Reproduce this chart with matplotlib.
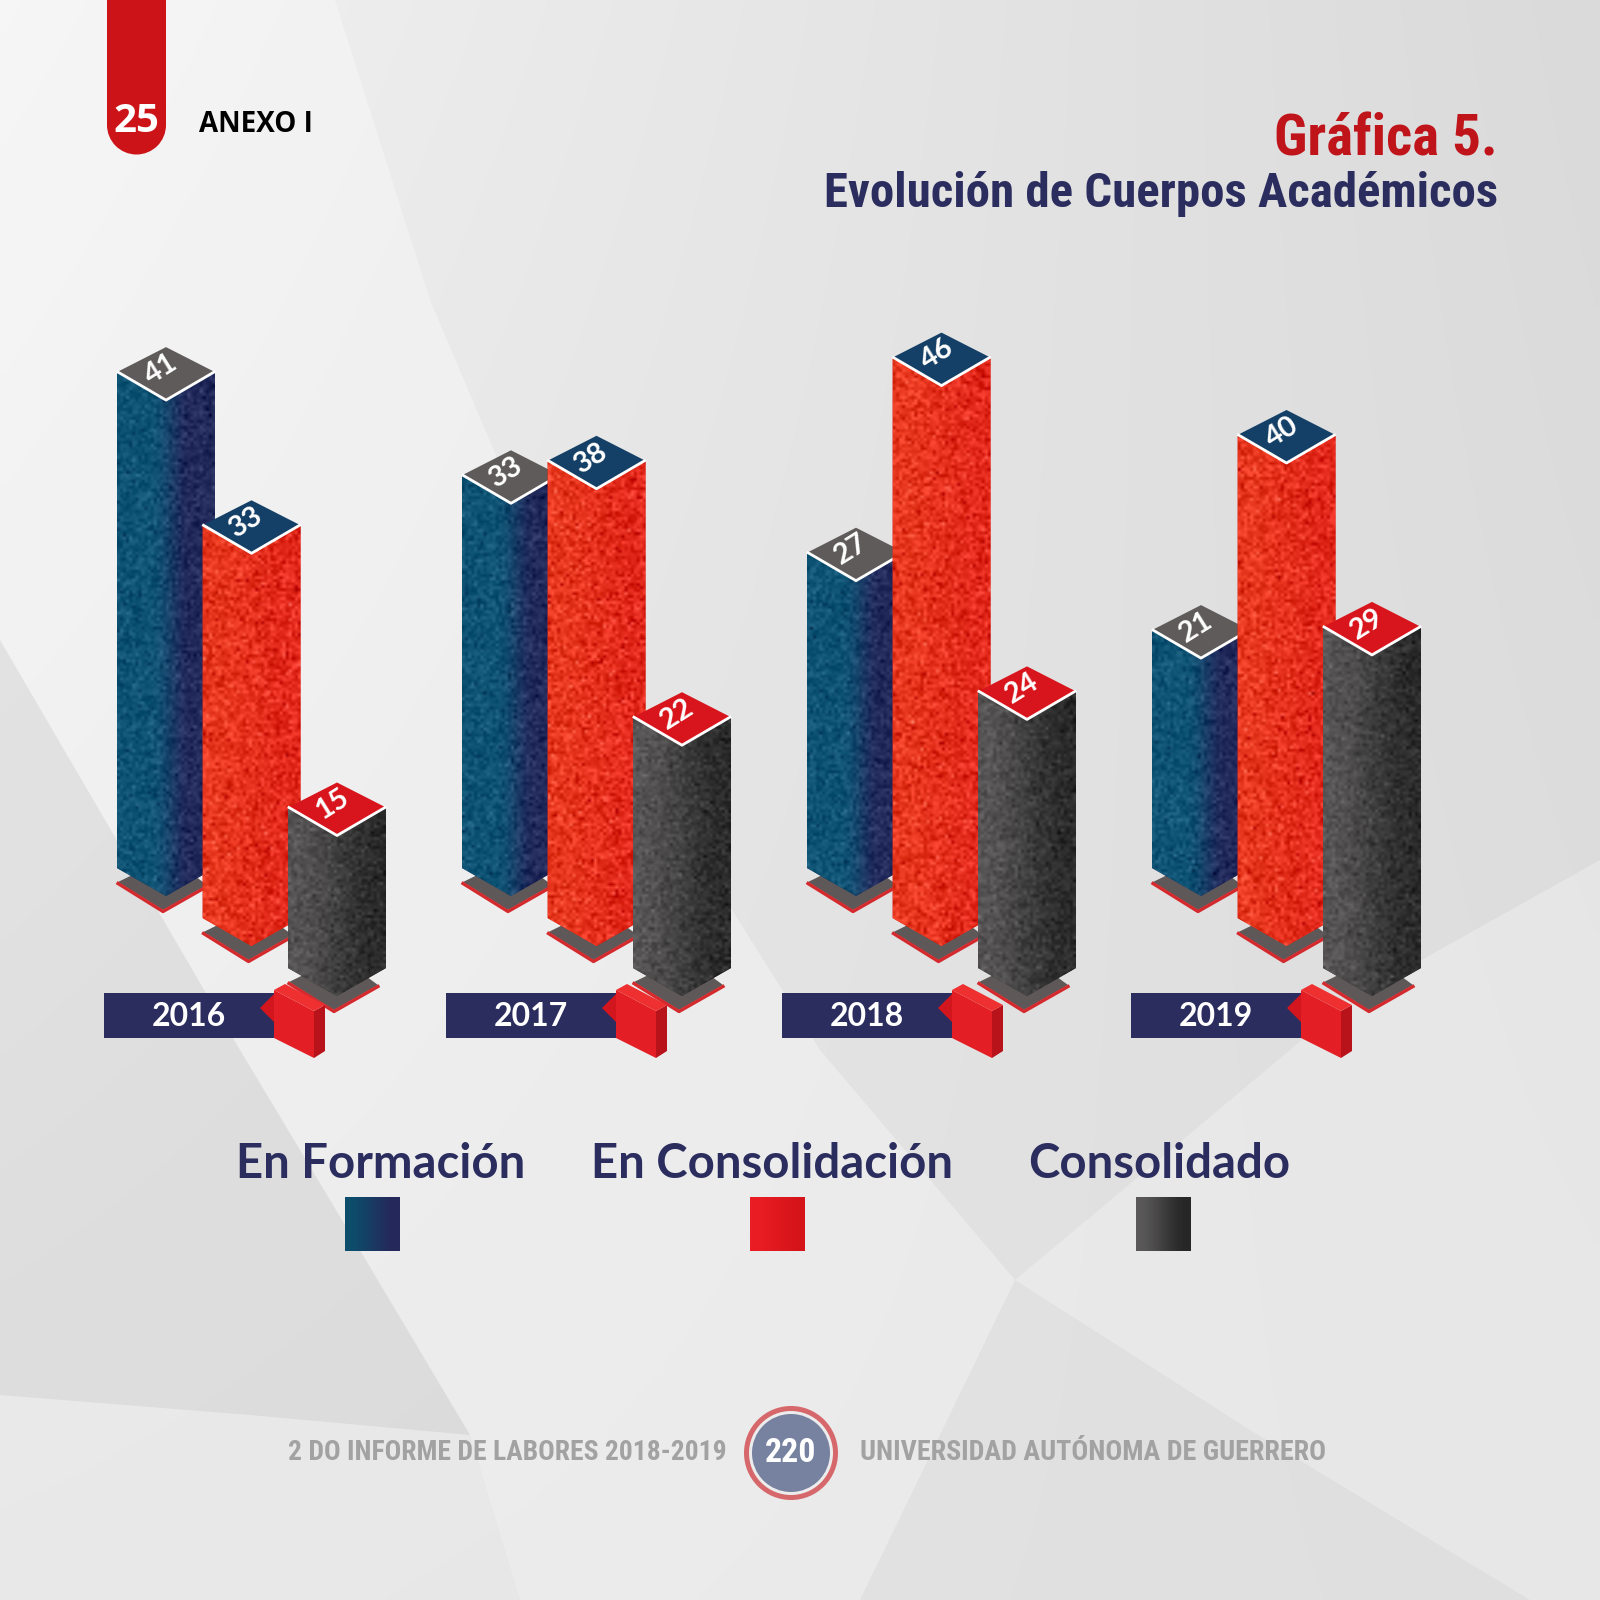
import numpy as np
import matplotlib
matplotlib.use("Agg")
import matplotlib.pyplot as plt
from matplotlib.patches import Polygon, Rectangle, Circle
from matplotlib.lines import Line2D
from matplotlib import font_manager
from matplotlib.colors import to_rgb

# ---- data -------------------------------------------------------------
YEARS = ["2016", "2017", "2018", "2019"]
SERIES = ["En Formación", "En Consolidación", "Consolidado"]
EN_FORMACION = [41, 33, 27, 21]
EN_CONSOLIDACION = [33, 38, 46, 40]
CONSOLIDADO = [15, 22, 24, 29]

TITLE = "Gráfica 5."
SUBTITLE = "Evolución de Cuerpos Académicos"
FOOT_LEFT = "2 DO INFORME DE LABORES 2018-2019"
FOOT_RIGHT = "UNIVERSIDAD AUTÓNOMA DE GUERRERO"
PAGE = "220"
CHAPTER = "25"
SECTION = "ANEXO I"

# ---- style ------------------------------------------------------------
NAVY = "#2b2d5e"
RED = "#cc1317"
# body gradient (left, right), top colour per series
BODY = [("#0f5374", "#222a5c"), ("#e8381f", "#e2281b"), ("#575555", "#2a2a2a")]
TOPS = ["#5f5b5b", "#143f66", "#d8151c"]

installed = {f.name for f in font_manager.fontManager.ttflist}
NARROW = "Liberation Sans"
narrow_found = False
for cand in ["Liberation Sans Narrow", "Roboto Condensed", "Open Sans Condensed", "Arial Narrow"]:
    if cand in installed:
        NARROW, narrow_found = cand, True
        break
LATO = "Lato" if "Lato" in installed else "DejaVu Sans"
OPEN = "Open Sans" if "Open Sans" in installed else "DejaVu Sans"
# a normal-width face has to be set smaller to keep the line lengths
NS = 1.0 if narrow_found else 0.84

PX = 12.9          # pixels per unit
ZERO = 901         # pixel row of value 0 for the back bar
BAR_W = 98
STEP_X = 85.5      # shift of each bar inside a group
STEP_Y = 50        # drop of each bar inside a group (px)
GROUP_X0 = 117
GROUP_DX = 345
TAG_X = [104, 446, 782, 1131]

fig = plt.figure(figsize=(16, 16), dpi=100)

# background axes in pixel coordinates
bg = fig.add_axes([0, 0, 1, 1], zorder=0)
bg.set_xlim(0, 1600)
bg.set_ylim(1600, 0)
bg.axis("off")

yy, xx = np.mgrid[0:1:200j, 0:1:200j]
lum = 0.95 * (1 - xx) * (1 - yy) + 0.855 * xx * (1 - yy) + 0.895 * (1 - xx) * yy + 0.875 * xx * yy
bg.imshow(np.dstack([lum] * 3), extent=(0, 1600, 1600, 0), interpolation="bilinear",
          aspect="auto", zorder=0)
# light sweep between the two diagonal curves
bg.add_patch(Polygon([(0, 0), (335, 0), (430, 300), (600, 700), (820, 1050), (1015, 1280),
                      (860, 1600), (520, 1600), (470, 1435), (330, 1200), (210, 1000),
                      (0, 640)], closed=True,
                     facecolor="white", alpha=0.33, lw=0, zorder=1))
# darker wedge on the left
bg.add_patch(Polygon([(0, 640), (210, 1000), (330, 1200), (470, 1435), (250, 1415),
                      (0, 1395)], closed=True,
                     facecolor="#bdbdbd", alpha=0.2, lw=0, zorder=1))
# lighter band at the bottom left
bg.add_patch(Polygon([(0, 1395), (250, 1415), (470, 1435), (520, 1600), (0, 1600)],
                     closed=True, facecolor="white", alpha=0.18, lw=0, zorder=1))
# light wedge on the right
bg.add_patch(Polygon([(1600, 860), (1350, 1000), (1015, 1280), (1250, 1430), (1530, 1600),
                      (1600, 1600)], closed=True,
                     facecolor="white", alpha=0.28, lw=0, zorder=1))

# header
bg.add_patch(Rectangle((107, -10), 59, 135, facecolor=RED, lw=0, zorder=2))
bg.add_patch(Circle((136.5, 125), 29.5, facecolor=RED, lw=0, zorder=2))
bg.text(136.5, 122, CHAPTER, color="white", fontsize=29, fontweight="bold", family=OPEN,
        ha="center", va="center", zorder=3)
bg.text(199, 124, SECTION, color="black", fontsize=20, fontweight="bold", family=OPEN,
        ha="left", va="center", zorder=3)

# titles
bg.text(1498, 155, TITLE, color="#c0141b", fontsize=41 * NS, fontweight="bold", family=NARROW,
        ha="right", va="baseline", zorder=3)
bg.text(1498, 207, SUBTITLE, color=NAVY, fontsize=35.2 * NS, fontweight="bold", family=NARROW,
        ha="right", va="baseline", zorder=3)

# ---- chart axes: x in px, y in values --------------------------------
ax = fig.add_axes([0, 0, 1, 1], zorder=2)
ax.patch.set_alpha(0)
ax.axis("off")


def u(px):
    return px / PX


def texture(hpx, wpx, left, right, amp, t0, t1, seed):
    rng = np.random.default_rng(seed)
    hh, ww = max(int(hpx / 3), 2), max(int(wpx / 3), 2)
    x = np.linspace(0, 1, ww)
    t = np.clip((x - t0) / (t1 - t0), 0, 1)
    t = t * t * (3 - 2 * t)
    base = np.array(to_rgb(left))[None, :] * (1 - t)[:, None] + np.array(to_rgb(right))[None, :] * t[:, None]
    img = np.repeat(base[None, :, :], hh, axis=0)
    img = img + rng.normal(0, amp, (hh, ww, 1))
    return np.clip(img, 0, 1)


TEX = [(0.045, 0.35, 0.75), (0.07, 0.0, 1.0), (0.04, 0.0, 1.0)]


def pillar(xl, row, value, s, seed):
    z = 10 + 10 * row
    xr, xc = xl + BAR_W, xl + BAR_W / 2
    shift = u(STEP_Y * row)
    top = value - shift
    bot = u(33) - shift
    up, dn = u(25), u(28)
    # floor plate
    b1 = bot - u(14)
    plate = [(xl + 1, b1), (xc - 3, b1 - dn), (xr - 8, b1 - u(3)), (xc + 3, b1 + up)]
    ax.add_patch(Polygon(plate, closed=True, facecolor="#5e5858", lw=0, zorder=z))
    ax.add_line(Line2D([plate[0][0], plate[1][0], plate[2][0]],
                       [plate[0][1] - u(1.5), plate[1][1] - u(1.5), plate[2][1] - u(1.5)],
                       color="#d42a2e", lw=2.4, zorder=z, solid_joinstyle="round"))
    # body with texture
    body = Polygon([(xl, top), (xr, top), (xr, bot), (xc, bot - dn), (xl, bot)], closed=True,
                   facecolor=BODY[s][1], lw=0, zorder=z + 1)
    ax.add_patch(body)
    amp, t0, t1 = TEX[s]
    img = texture((value - u(33)) * PX + 30, BAR_W, BODY[s][0], BODY[s][1], amp, t0, t1, seed)
    im = ax.imshow(img, extent=(xl, xr, bot - dn, top), interpolation="bilinear",
                   aspect="auto", zorder=z + 2)
    im.set_clip_path(body)
    # top diamond
    ax.add_patch(Polygon([(xl, top), (xc, top + up), (xr, top), (xc, top - dn)], closed=True,
                         facecolor=TOPS[s], lw=0, zorder=z + 3))
    ax.add_line(Line2D([xl + 1, xc, xr - 1], [top, top - dn, top], color="white", lw=2,
                       zorder=z + 4, solid_joinstyle="round"))
    ax.text(xc - 5, top + u(3), str(value), color="white", fontsize=21, fontweight="bold",
            family=LATO, rotation=32, ha="center", va="center", zorder=z + 5,
            rotation_mode="anchor")


for g, year in enumerate(YEARS):
    x0 = GROUP_X0 + GROUP_DX * g
    for s, vals in enumerate([EN_FORMACION, EN_CONSOLIDACION, CONSOLIDADO]):
        pillar(x0 + STEP_X * s, s, vals[g], s, 7 * g + s)

ax.set_xlim(0, 1600)
ax.set_ylim(-(1600 - ZERO) / PX, ZERO / PX)

# ---- overlay: year tags, legend, footer --------------------------------
ov = fig.add_axes([0, 0, 1, 1], zorder=3)
ov.set_xlim(0, 1600)
ov.set_ylim(1600, 0)
ov.axis("off")
ov.patch.set_alpha(0)

for g, year in enumerate(YEARS):
    left = TAG_X[g]
    R = left + 170
    ov.add_patch(Rectangle((left, 993), 170, 45, facecolor=NAVY, lw=0, zorder=2))
    ov.text(left + 85, 1017, year, color="white", fontsize=23, fontweight="bold", family=LATO,
            ha="center", va="center", zorder=3)
    ov.add_patch(Polygon([(R - 14, 1008), (R, 994), (R, 1022)], closed=True,
                         facecolor="#d3161d", lw=0, zorder=3))
    ov.add_patch(Polygon([(R, 990), (R + 40, 1011), (R + 40, 1058), (R, 1038)], closed=True,
                         facecolor="#e41e25", lw=0, zorder=3))
    ov.add_patch(Polygon([(R + 40, 1011), (R + 51, 1005), (R + 51, 1051), (R + 40, 1058)],
                         closed=True, facecolor="#b8121a", lw=0, zorder=3))
    ov.add_patch(Polygon([(R, 990), (R + 11, 984), (R + 51, 1005), (R + 40, 1011)], closed=True,
                         facecolor="#ef3030", lw=0, zorder=3))

LEG_X = [381, 772, 1159]
SWATCH_X = [345, 750, 1136]
SWATCH = [("#0d4d6b", "#25285a"), ("#ea1d24", "#d51419"), ("#5a5858", "#262626")]
for i, name in enumerate(SERIES):
    ov.text(LEG_X[i], 1178, name, color=NAVY, fontsize=34, fontweight="bold", family=LATO,
            ha="center", va="baseline", zorder=3)
    grad = texture(54, 55, SWATCH[i][0], SWATCH[i][1], 0.0, 0.0, 1.0, 0)
    ov.imshow(grad, extent=(SWATCH_X[i], SWATCH_X[i] + 55, 1251, 1197),
              interpolation="bilinear", aspect="auto", zorder=3)

ov.text(727, 1453, FOOT_LEFT, color="#a2a2a2", fontsize=19.4 * (NS + 0.02), fontweight="bold",
        family=NARROW, ha="right", va="center", zorder=3)
ov.text(860, 1453, FOOT_RIGHT, color="#a2a2a2", fontsize=19.8 * (NS + 0.02), fontweight="bold",
        family=NARROW, ha="left", va="center", zorder=3)
ov.add_patch(Circle((791, 1453), 47, facecolor="#d6676b", lw=0, zorder=3))
ov.add_patch(Circle((791, 1453), 42, facecolor="#ececec", lw=0, zorder=3))
ov.add_patch(Circle((791, 1453), 39, facecolor="#76829f", lw=0, zorder=3))
ov.text(791, 1453, PAGE, color="white", fontsize=23 * (NS + 0.06), fontweight="bold",
        family=NARROW, ha="center", va="center", zorder=4)

fig.savefig("out.png", dpi=100)
